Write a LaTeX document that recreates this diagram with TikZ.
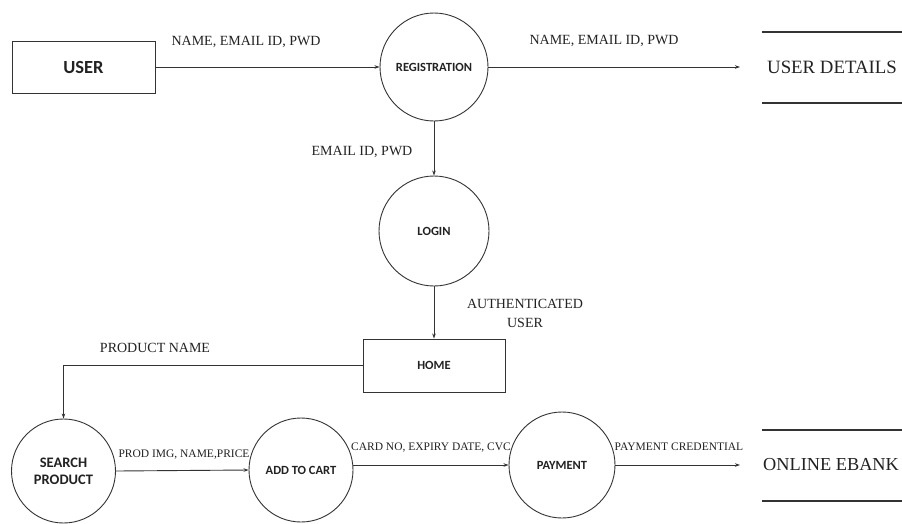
\documentclass[tikz,border=0pt]{standalone}
\usepackage{fontspec}
\newfontfamily\tnr{Liberation Serif}
\newfontfamily\calfont{Carlito}
\usetikzlibrary{arrows.meta,calc}
\definecolor{ink}{HTML}{222222}
\definecolor{stroke}{HTML}{333333}
\tikzset{
  proc/.style={circle,draw=stroke,line width=0.9pt,inner sep=0pt,font=\calfont\bfseries\fontsize{12.5}{14}\selectfont,text=ink,align=center},
  ent/.style={rectangle,draw=stroke,line width=0.9pt,inner sep=0pt,font=\calfont\bfseries,text=ink},
  lbl/.style={anchor=base,inner sep=0pt,font=\tnr\fontsize{14}{19}\selectfont,text=ink},
  slbl/.style={anchor=base,inner sep=0pt,font=\tnr\fontsize{11.5}{13}\selectfont,text=ink},
  storetxt/.style={anchor=base west,inner sep=0pt,font=\tnr\fontsize{18.3}{22}\selectfont,text=ink},
  storeline/.style={draw=stroke,line width=1.1pt},
  flow/.style={draw=stroke,line width=0.9pt,-{Stealth[length=5pt,width=3.5pt]}}
}
\begin{document}
\begin{tikzpicture}[x=1pt,y=-1pt]
\useasboundingbox[fill=white] (0,0) rectangle (902,523);
% entities
\node[ent,minimum width=143pt,minimum height=52pt,font=\calfont\bfseries\fontsize{18.5}{20}\selectfont] (user) at (83.5,67) {USER};
\node[ent,minimum width=142pt,minimum height=53pt,font=\calfont\bfseries\fontsize{12.5}{14}\selectfont] (home) at (434,365.5) {HOME};
% processes
\node[proc,minimum size=108pt] (reg) at (434,67) {REGISTRATION};
\node[proc,minimum size=110pt] (login) at (434,231) {LOGIN};
\node[proc,minimum size=104pt,font=\calfont\bfseries\fontsize{14.5}{17}\selectfont] (search) at (63.5,471) {SEARCH\\PRODUCT};
\node[proc,minimum size=104pt] (cart) at (301,470) {ADD TO CART};
\node[proc,minimum size=106pt] (pay) at (562,465) {PAYMENT};
% data stores
\coordinate (udl) at (762,32); \coordinate (udr) at (902,32);
\coordinate (udl2) at (762,103); \coordinate (udr2) at (902,103);
\draw[storeline] (udl) -- (udr);
\draw[storeline] (udl2) -- (udr2);
\node[storetxt,font=\tnr\fontsize{18.8}{22}\selectfont] (ud) at (767,73) {USER DETAILS};
\coordinate (ebl) at (762,430); \coordinate (ebr) at (902,430);
\coordinate (ebl2) at (762,501); \coordinate (ebr2) at (902,501);
\draw[storeline] (ebl) -- (ebr);
\draw[storeline] (ebl2) -- (ebr2);
\node[storetxt] (eb) at (763,470) {ONLINE EBANK};
\coordinate (udin) at (740,67);
\coordinate (ebin) at (740,465);
% flows
\draw[flow] (user.east) -- (reg.west);
\draw[flow] (reg.east) -- (udin);
\draw[flow] (reg.south) -- (login.north);
\draw[flow] (login.south) -- (home.north);
\draw[flow] (home.west) -| (search.north);
\draw[flow] (search.east) -- (cart.west);
\draw[flow] (cart.east |- pay.west) -- (pay.west);
\draw[flow] (pay.east) -- (ebin);
% labels
\node[lbl] (l1) at (246,45) {NAME, EMAIL ID, PWD};
\node[lbl] (l2) at (604,44) {NAME, EMAIL ID, PWD};
\node[lbl] (l3) at (362,155) {EMAIL ID, PWD};
\node[lbl] (l4a) at (525,308) {AUTHENTICATED};
\node[lbl] (l4b) at (525,327) {USER};
\node[lbl] (l5) at (155,352) {PRODUCT NAME};
\node[slbl] (l6) at (184,457) {PROD IMG, NAME,PRICE};
\node[slbl] (l7) at (431,450) {CARD NO, EXPIRY DATE, CVC};
\node[slbl] (l8) at (679,450) {PAYMENT CREDENTIAL};
\end{tikzpicture}
\end{document}
